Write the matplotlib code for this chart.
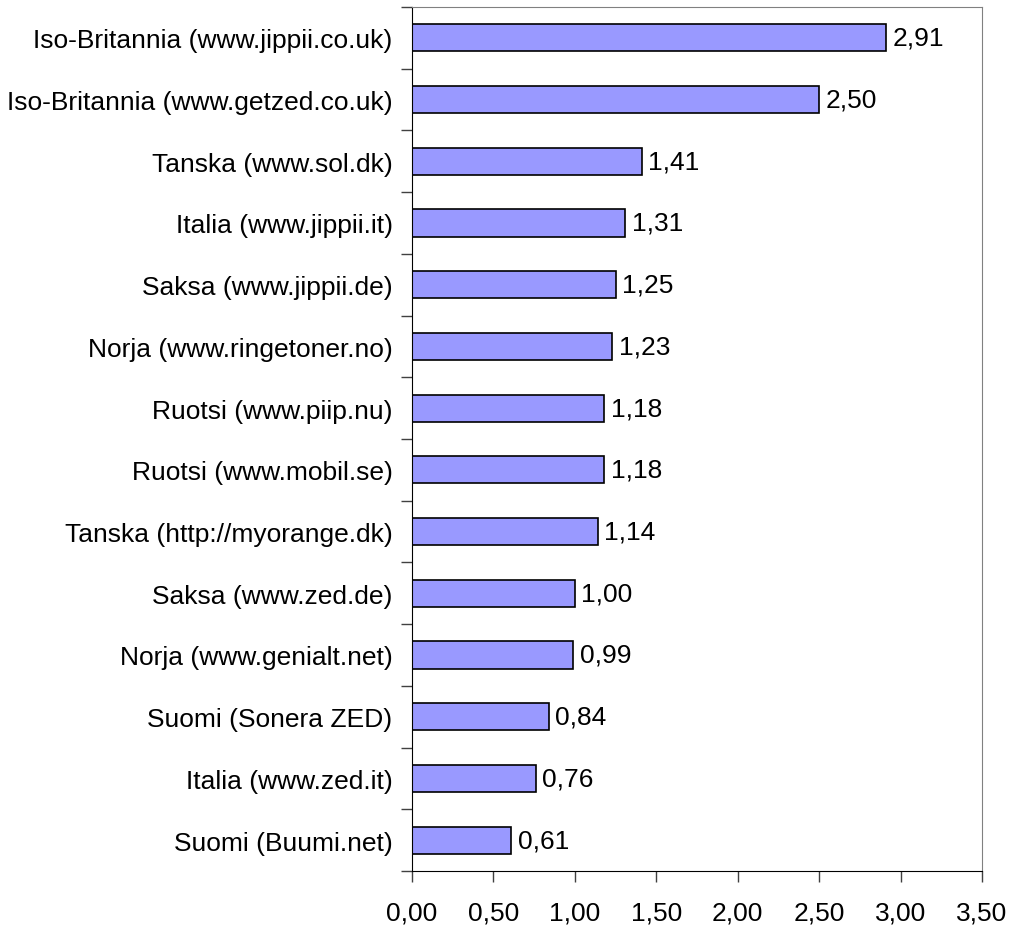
import numpy as np
import matplotlib.pyplot as plt
from matplotlib.ticker import FixedLocator, MultipleLocator, FuncFormatter

plt.rcParams['font.family'] = ['Liberation Sans', 'DejaVu Sans']

# ==== Data (top to bottom) ====
labels = [
    "Iso-Britannia (www.jippii.co.uk)",
    "Iso-Britannia (www.getzed.co.uk)",
    "Tanska (www.sol.dk)",
    "Italia (www.jippii.it)",
    "Saksa (www.jippii.de)",
    "Norja (www.ringetoner.no)",
    "Ruotsi (www.piip.nu)",
    "Ruotsi (www.mobil.se)",
    "Tanska (http://myorange.dk)",
    "Saksa (www.zed.de)",
    "Norja (www.genialt.net)",
    "Suomi (Sonera ZED)",
    "Italia (www.zed.it)",
    "Suomi (Buumi.net)",
]
values = [2.91, 2.50, 1.41, 1.31, 1.25, 1.23, 1.18, 1.18, 1.14, 1.00, 0.99, 0.84, 0.76, 0.61]


def fi(v, pos=None):
    # Finnish decimal comma
    return f"{v:.2f}".replace(".", ",")


fig = plt.figure(figsize=(10.16, 9.29), dpi=100)
ax = fig.add_axes([0.4055, 0.0614, 0.561, 0.93])

n = len(labels)
y = np.arange(n)[::-1]
ax.barh(y, values, height=0.44, color="#9999FF", edgecolor="black", linewidth=1.2)

for yi, v in zip(y, values):
    ax.text(v + 0.04, yi, fi(v), va="center", ha="left", fontsize=19)

ax.set_ylim(-0.5, n - 0.5)
ax.set_xlim(0, 3.5)

ax.set_yticks(y)
ax.set_yticklabels(labels, fontsize=19)
ax.yaxis.set_minor_locator(FixedLocator(np.arange(-0.5, n, 1.0)))
ax.tick_params(axis="y", which="major", length=0, pad=14)
ax.tick_params(axis="y", which="minor", length=8, width=1, color="#404040")

ax.xaxis.set_major_locator(MultipleLocator(0.5))
ax.xaxis.set_major_formatter(FuncFormatter(fi))
ax.tick_params(axis="x", which="major", length=8, width=1, labelsize=19, pad=13, color="#404040")

ax.spines["left"].set_color("black")
ax.spines["bottom"].set_color("black")
ax.spines["top"].set_color("#808080")
ax.spines["right"].set_color("#808080")

fig.savefig("out.png", dpi=100)
